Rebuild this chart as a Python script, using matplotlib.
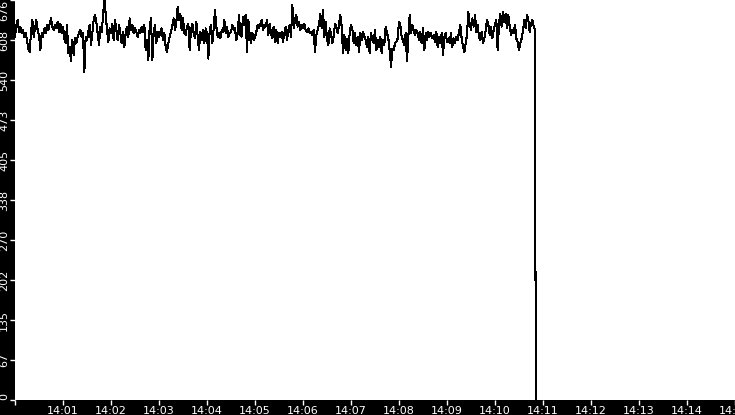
import datetime as dt
import numpy as np
import matplotlib
matplotlib.use("Agg")
import matplotlib.pyplot as plt
import matplotlib.dates as mdates

# ---- data ----
seg1 = [614, 634, 642, 622, 631, 620, 625, 614, 620, 608, 594, 588, 622, 642, 614, 628, 642, 625, 617, 591,
        620, 614, 628, 620, 634, 625, 636, 645, 631, 625, 634, 628, 639, 622, 636, 620, 631, 611, 603, 634,
        586, 597, 572, 608, 583, 611, 603, 614, 620, 625, 614, 620, 554, 614, 608, 622, 634, 600, 620, 642,
        651, 639, 620, 600, 631, 622, 648, 680, 653, 625, 605, 628, 620, 636, 608, 642, 625, 608, 634, 620,
        603, 622, 597, 620, 631, 614, 645, 625, 634, 620, 628, 622, 614, 625, 620, 631, 622, 634, 591, 608,
        574, 631, 645, 574, 620, 634, 603, 622, 614, 622, 628, 608, 620, 597, 588, 603, 614, 622, 634, 645,
        625, 639, 665, 642, 653, 625, 645, 620, 617, 631, 636, 591]
seg2 = [625, 636, 620, 611, 639, 614, 591, 622, 608, 625, 603, 628, 620, 577, 625, 634, 603, 628, 659, 631,
        614, 620, 611, 625, 622, 642, 620, 631, 614, 620, 622, 634, 625, 628, 608, 620, 651, 617, 614, 648,
        634, 651, 588, 642, 617, 603, 620, 608, 614, 622, 634, 628, 636, 642, 625, 634, 631, 642, 617, 636,
        620, 611, 631, 605, 625, 603, 620, 614, 622, 605, 620, 631, 608, 625, 634, 614, 668, 628, 642, 651,
        631, 639, 625, 634, 628, 636, 625, 622, 628, 620, 622, 617, 625, 588, 617, 625, 634, 653, 628, 659,
        614, 639, 611, 600, 628, 620, 603, 614, 636, 631, 620, 634, 651, 631, 586, 617, 591, 611, 586, 620,
        634, 628, 603, 620, 600, 614, 588, 620, 608, 622]
seg3 = [614, 608, 597, 614, 586, 620, 608, 603, 625, 591, 608, 597, 614, 586, 608, 600, 631, 620, 611, 591,
        563, 594, 591, 603, 605, 611, 639, 634, 614, 608, 600, 620, 572, 614, 651, 620, 634, 625, 617, 625,
        620, 608, 622, 603, 628, 591, 620, 608, 622, 614, 620, 611, 617, 605, 622, 597, 614, 603, 620, 583,
        614, 620, 605, 611, 603, 620, 597, 611, 603, 614, 608, 622, 634, 611, 597, 588, 603, 617, 656, 636,
        625, 645, 631, 651, 622, 634, 614, 608, 622, 603, 611, 625, 642, 634, 617, 631, 611, 625, 634, 642,
        591, 636, 653, 631, 656, 639, 653, 628, 651, 631, 617, 625, 620, 634, 611, 605, 591, 603, 611, 625,
        642, 628, 651, 642, 622, 636, 642, 631, 625]
drop_values = [312, 0]

y_ticks = [0, 67.6, 135.2, 202.8, 270.4, 338.0, 405.6, 473.2, 540.8, 608.4, 676]
y_tick_labels = ["0", "67", "135", "202", "270", "338", "405", "473", "540", "608", "676"]

# ---- timeline ----
start = dt.datetime(2024, 1, 1, 14, 0, 0)
end_regular = dt.datetime(2024, 1, 1, 14, 10, 50)
values = seg1 + seg2 + seg3
n = len(values)
step = (end_regular - start).total_seconds() / (n - 1)
times = [start + dt.timedelta(seconds=i * step) for i in range(n)]
times += [end_regular + dt.timedelta(seconds=0.3), end_regular + dt.timedelta(seconds=1.3)]
values = values + drop_values

W, H = 735, 415
fig = plt.figure(figsize=(W / 100, H / 100), dpi=100, facecolor="black")
ax = fig.add_axes([15 / W, 15 / H, 720 / W, 400 / H])
ax.set_facecolor("white")
ax.plot(times, values, color="black", lw=0.75, antialiased=False)

ax.set_xlim(start, dt.datetime(2024, 1, 1, 14, 15, 0))
ax.set_ylim(0, 676)
for s in ax.spines.values():
    s.set_visible(False)

ax.xaxis.set_major_locator(mdates.MinuteLocator())
ax.xaxis.set_major_formatter(mdates.DateFormatter("%H:%M"))
ax.set_yticks(y_ticks)
ax.set_yticklabels(y_tick_labels, rotation=90, va="center")
ax.tick_params(axis="both", colors="white", length=3.6, width=1, labelsize=8)
ax.tick_params(axis="x", pad=0.4)
ax.tick_params(axis="y", pad=0.6)
labels = ax.get_yticklabels()
labels[-1].set_va("top")
labels[0].set_va("bottom")
ax.get_xticklabels()[0].set_visible(False)

fig.savefig("out.png", dpi=100, facecolor="black")
